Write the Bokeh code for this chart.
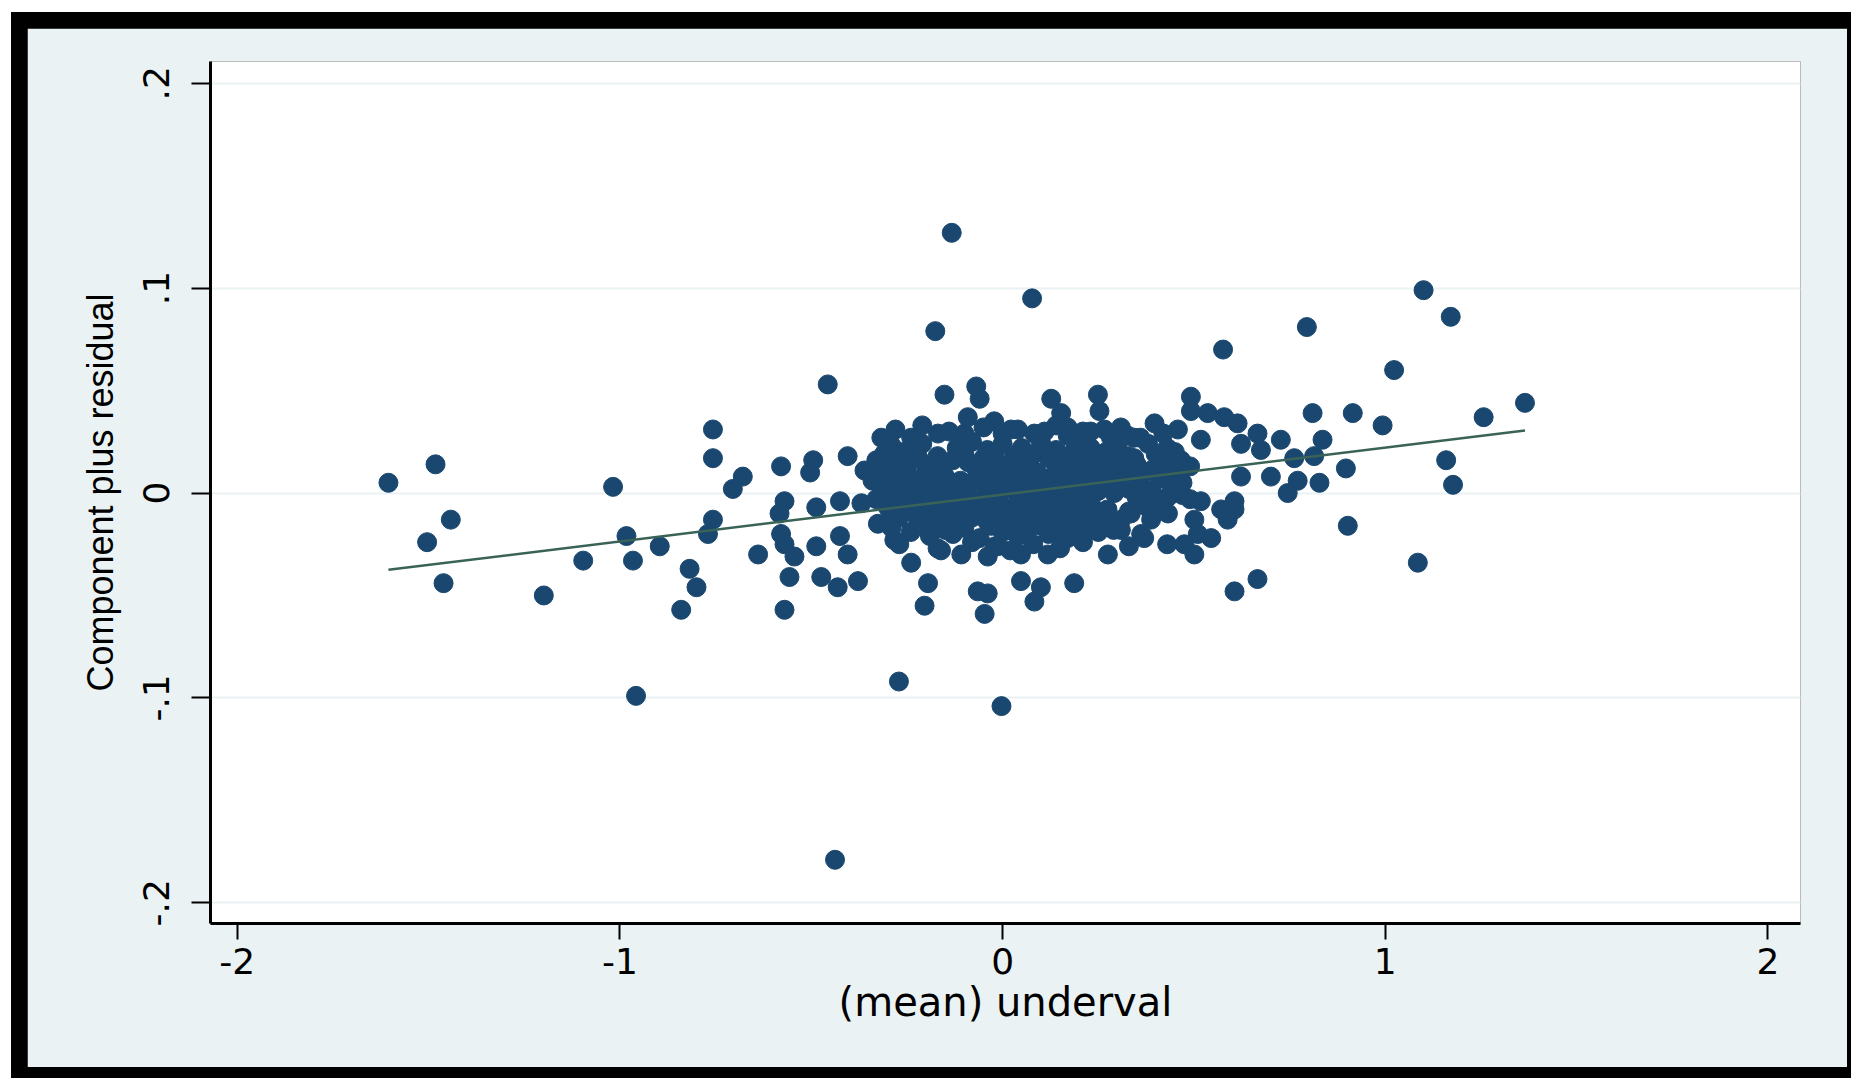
from bokeh.plotting import figure
from bokeh.layouts import column
from bokeh.models import Range1d, FixedTicker, ColumnDataSource
from bokeh.embed import file_html
from bokeh.resources import INLINE

# ---------------- data ----------------
px = [
    -1.605, -1.482, -1.504, -1.442, -1.461, -1.199, -1.096, -1.018, -0.983, -0.966,
    -0.958, -0.896, -0.840, -0.818, -0.800, -0.770, -0.757, -0.757, -0.757, -0.705,
    -0.679, -0.639, -0.579, -0.570, -0.583, -0.579, -0.570, -0.544, -0.570, -0.557,
    -0.487, -0.495, -0.503, -0.457, -0.487, -0.474, -0.431, -0.438, -0.425, -0.425,
    -0.405, -0.405,
    -0.369, -0.361, -0.317, -0.326, -0.283, -0.378, -0.239, -0.195, -0.204, -0.161,
    -0.108, -0.065, -0.039, -0.039, 0.048, 0.100, 0.083, 0.048, 0.118, 0.187,
    0.205, 0.275, -0.047, -0.003, -0.271, -0.277, -0.317, -0.152, -0.069, -0.060,
    0.127, 0.249, 0.253, -0.091, -0.022, 0.153, 0.170, -0.239, -0.248, -0.169,
    -0.133, -0.176, 0.077, 0.022, 0.083, 0.266, 0.327, -0.013,
    0.492, 0.492, 0.536, 0.579, 0.614, 0.397, 0.458, 0.344, 0.666, 0.727,
    0.518, 0.623, 0.675, 0.810, 0.915, 0.993, 0.836, 0.762, 0.814, 0.897,
    0.701, 0.623, 0.771, 0.828, 0.745, 0.606, 0.606, 0.518, 0.571, 0.432,
    0.432, 0.388, 0.501, 0.510, 0.588, 0.545, 0.475, 0.501, 0.370, 0.666,
    0.606, 0.902, 1.023, 0.309, 0.388, 0.449, 0.283, 0.344, 0.414, 0.466,
    0.283, 0.309, 0.292, 0.362, 0.414, 0.274, 0.335, 0.309, 0.362,
    0.576, 0.795, 1.100, 1.171, 1.257, 1.365, 1.159, 1.177, 1.085,
    -0.29, -0.21, -0.12, -0.08, -0.04, 0.00, 0.05, 0.10, 0.14, 0.19, 0.23, 0.30, 0.38, 0.43,
    -0.33, -0.28, -0.22, -0.18, -0.13, -0.09, -0.05, -0.01, 0.03, 0.07, 0.12, 0.16, 0.20,
    0.25, 0.30, 0.35, 0.49,
    -0.34, -0.29, -0.24, -0.20, -0.15, -0.11, -0.06, -0.02, 0.02, 0.06, 0.11, 0.15, 0.19,
    0.24, 0.26, 0.35, 0.41, 0.47,
    -0.31, -0.27, -0.23, -0.18, -0.13, -0.09, -0.04, 0.00, 0.04, 0.08, 0.13, 0.17, 0.21,
    0.25, 0.33, 0.39, 0.47,
    -0.30, -0.25, -0.21, -0.16, -0.12, -0.07, -0.03, 0.02, 0.06, 0.10, 0.15, 0.19, 0.24,
    0.23, 0.37,
    -0.27, -0.22, -0.17, -0.12, -0.08, -0.04, 0.01, 0.05, 0.09, 0.14, 0.18, 0.22, 0.27, 0.31,
    -0.24, -0.19, -0.13, -0.06, 0.00, 0.04, 0.12, 0.17, 0.25,
    -0.10, 0.17, 0.21,
    -0.31, -0.26, -0.17, -0.10, -0.02, 0.03, 0.08, 0.12, 0.17, 0.21, 0.27, 0.33, 0.40, 0.45,
    -0.31, -0.25, -0.20, -0.16, -0.07, -0.03, 0.01, 0.05, 0.09, 0.14, 0.18, 0.22, 0.28,
    0.32, 0.37, 0.43,
    -0.32, -0.26, -0.21, -0.17, -0.12, -0.08, -0.03, 0.01, 0.06, 0.10, 0.15, 0.19, 0.23,
    0.29, 0.37, 0.44,
    -0.33, -0.28, -0.23, -0.19, -0.14, -0.10, -0.05, -0.01, 0.04, 0.08, 0.12, 0.17, 0.22,
    0.35, 0.41, 0.49,
    -0.29, -0.24, -0.19, -0.14, -0.10, -0.05, -0.01, 0.03, 0.08, 0.12, 0.16, 0.21, 0.26,
    0.33, 0.39,
    -0.29, -0.21, -0.15, -0.10, -0.03, 0.02, 0.07, 0.10, 0.15, 0.20, 0.23, 0.29,
    -0.28, -0.21, -0.14, -0.05, 0.00, 0.04, 0.11, 0.14, 0.23, 0.29, 0.36, 0.42,
    -0.27, -0.17, -0.08, -0.02, 0.02, 0.08, 0.15, 0.21, 0.33, 0.43,
]
py = [
    0.005, 0.014, -0.024, -0.013, -0.044, -0.050, -0.033, 0.003, -0.021, -0.033,
    -0.099, -0.026, -0.057, -0.037, -0.046, -0.020, -0.013, 0.031, 0.017, 0.002,
    0.008, -0.030, 0.013, -0.004, -0.010, -0.020, -0.025, -0.031, -0.057, -0.041,
    -0.026, 0.016, 0.010, 0.053, -0.007, -0.041, -0.046, -0.179, -0.004, -0.021,
    -0.030, 0.018,
    -0.005, 0.011, 0.009, -0.015, -0.023, -0.043, -0.034, -0.044, -0.055, -0.028,
    -0.030, -0.048, -0.049, -0.031, -0.043, -0.046, -0.053, -0.030, -0.030, -0.044,
    -0.022, -0.030, -0.059, -0.104, -0.092, 0.003, 0.027, 0.048, 0.052, 0.046,
    0.046, 0.048, 0.040, 0.037, 0.035, 0.039, 0.032, 0.027, 0.019, 0.029,
    0.127, 0.079, 0.095, 0.031, 0.029, 0.031, 0.028, -0.026,
    0.047, 0.040, 0.039, 0.037, 0.034, 0.034, 0.031, 0.027, 0.029, 0.026,
    0.026, 0.024, 0.021, 0.039, 0.039, 0.033, 0.026, 0.017, 0.018, 0.012,
    0.008, 0.008, 0.006, 0.005, 0.000, -0.004, -0.008, -0.004, -0.008, -0.002,
    -0.010, -0.013, -0.013, -0.020, -0.013, -0.022, -0.025, -0.030, -0.022, -0.042,
    -0.048, -0.016, 0.060, 0.008, 0.011, 0.011, 0.016, 0.017, 0.017, 0.016,
    0.027, 0.032, 0.000, 0.000, -0.004, -0.008, -0.010, -0.018, -0.020,
    0.070, 0.081, 0.099, 0.086, 0.037, 0.044, 0.016, 0.004, -0.034,
    0.023, 0.024, 0.022, 0.025, 0.021, 0.024, 0.022, 0.025, 0.021, 0.024, 0.022, 0.023, 0.024, 0.022,
    0.016, 0.015, 0.017, 0.014, 0.016, 0.015, 0.017, 0.014, 0.016, 0.015, 0.017, 0.014, 0.016,
    0.015, 0.012, 0.014, 0.013,
    0.006, 0.008, 0.007, 0.009, 0.008, 0.006, 0.009, 0.007, 0.008, 0.010, 0.007, 0.009, 0.006,
    0.008, 0.004, 0.006, 0.007, 0.005,
    0.001, -0.001, 0.002, 0.000, 0.002, -0.001, 0.001, 0.003, -0.001, 0.002, 0.000, 0.003, -0.001,
    0.001, 0.002, 0.001, -0.001,
    -0.007, -0.005, -0.008, -0.006, -0.004, -0.007, -0.005, -0.008, -0.006, -0.004, -0.007, -0.005, -0.008,
    -0.003, -0.006,
    -0.012, -0.014, -0.013, -0.015, -0.012, -0.014, -0.013, -0.015, -0.012, -0.014, -0.013, -0.011, -0.015, -0.013,
    -0.019, -0.021, -0.020, -0.022, -0.019, -0.021, -0.020, -0.022, -0.019,
    0.029, 0.028, 0.030,
    0.019, 0.020, 0.018, 0.019, 0.020, 0.018, 0.019, 0.020, 0.018, 0.019, 0.020, 0.018, 0.019, 0.020,
    0.011, 0.012, 0.010, 0.011, 0.012, 0.010, 0.011, 0.012, 0.010, 0.011, 0.012, 0.010, 0.011,
    0.012, 0.010, 0.011,
    0.004, 0.003, 0.005, 0.004, 0.003, 0.005, 0.004, 0.003, 0.005, 0.004, 0.003, 0.005, 0.004,
    0.003, 0.002, 0.004,
    -0.003, -0.002, -0.004, -0.003, -0.002, -0.004, -0.003, -0.002, -0.004, -0.003, -0.002, -0.004, -0.003,
    -0.002, -0.004, -0.003,
    -0.010, -0.009, -0.011, -0.010, -0.009, -0.011, -0.010, -0.009, -0.011, -0.010, -0.009, -0.011, -0.010,
    -0.009, -0.011,
    -0.017, -0.016, -0.018, -0.017, -0.016, -0.018, -0.017, -0.016, -0.018, -0.017, -0.016, -0.018,
    0.031, 0.033, 0.030, 0.032, 0.029, 0.031, 0.030, 0.033, 0.030, 0.028, 0.027, 0.029,
    -0.025, -0.027, -0.024, -0.026, -0.028, -0.025, -0.027, -0.024, -0.026, -0.025,
]

# fitted component line (endpoints)
line_x = [-1.605, 1.365]
line_y = [-0.0375, 0.0305]

xticks = [-2, -1, 0, 1, 2]
xtick_labels = ["-2", "-1", "0", "1", "2"]
yticks = [-0.2, -0.1, 0, 0.1, 0.2]
ytick_labels = ["-.2", "-.1", "0", ".1", ".2"]

x_title = "(mean) underval"
y_title = "Component plus residual"

# ---------------- styling ----------------
BG = "#EAF2F3"
NAVY = "#1A476F"
LINE = "#3A6358"
FONT = "DejaVu Sans"

p = figure(
    width=1820, height=1039,
    output_backend="svg", toolbar_location=None,
    x_range=Range1d(-2.07, 2.085), y_range=Range1d(-0.2101, 0.2106),
    min_border_left=183, min_border_top=33, min_border_right=47, min_border_bottom=144,
)
p.border_fill_color = BG
p.background_fill_color = "white"
p.outline_line_color = None

src = ColumnDataSource(dict(x=px, y=py))
p.scatter("x", "y", source=src, size=19, marker="circle",
          fill_color=NAVY, line_color=NAVY, line_width=1)
p.line(line_x, line_y, line_color=LINE, line_width=2.5)

# grid
p.xgrid.visible = False
p.ygrid.grid_line_color = BG
p.ygrid.grid_line_width = 2

# axes
for ax in (p.xaxis[0], p.yaxis[0]):
    ax.axis_line_color = "black"
    ax.axis_line_width = 3
    ax.major_tick_line_color = "black"
    ax.major_tick_line_width = 2
    ax.major_tick_in = 0
    ax.minor_tick_line_color = None
    ax.major_label_text_font = FONT
    ax.major_label_text_font_size = "36px"
    ax.major_label_text_color = "black"
    ax.axis_label_text_font = FONT
    ax.axis_label_text_font_style = "normal"
    ax.axis_label_text_color = "black"

p.xaxis.ticker = FixedTicker(ticks=xticks)
p.xaxis.major_label_overrides = dict(zip(xticks, xtick_labels))
p.xaxis.major_tick_out = 16
p.xaxis.major_label_standoff = 8
p.xaxis.axis_label = x_title
p.xaxis.axis_label_text_font_size = "40px"
p.xaxis.axis_label_standoff = 2

p.yaxis.ticker = FixedTicker(ticks=yticks)
p.yaxis.major_label_overrides = dict(zip(yticks, ytick_labels))
p.yaxis.major_label_orientation = "vertical"
p.yaxis.major_tick_out = 19
p.yaxis.major_label_standoff = 22
p.yaxis.axis_label = y_title
p.yaxis.axis_label_text_font = "Liberation Sans"
p.yaxis.axis_label_text_font_size = "36px"
p.yaxis.axis_label_standoff = 20

page = column(p, styles={"background-color": "black",
                         "padding": "16px 4px 11px 16px",
                         "margin-left": "11px", "margin-top": "12px"})

open("out.html", "w").write(file_html(page, INLINE))
